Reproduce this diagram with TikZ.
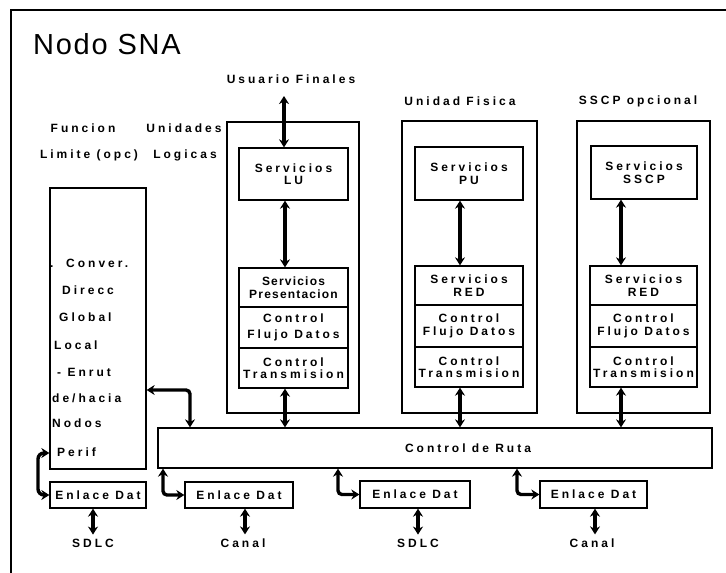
\documentclass[tikz,border=0pt]{standalone}
\usepackage{fontspec}
\usetikzlibrary{arrows.meta}
\newfontfamily\skf[LetterSpace=25]{Liberation Sans}
\newfontfamily\skn[LetterSpace=10]{Liberation Sans}
\newfontfamily\ttlf[LetterSpace=6]{Liberation Sans}
\tikzset{
  frame/.style={draw, line width=1.3pt},
  box/.style={draw, line width=1.3pt, rectangle, inner sep=1pt, align=center,
     font=\skf\bfseries\fontsize{12}{12.5}\selectfont},
  txt/.style={inner sep=0pt, font=\skf\bfseries\fontsize{12}{12.5}\selectfont},
  dbl/.style={line width=3.4pt, {Stealth[length=8pt,width=10pt]}-{Stealth[length=8pt,width=10pt]}},
}
\begin{document}
\begin{tikzpicture}[x=1pt,y=-1pt]
\useasboundingbox (0,0) rectangle (726,573);
% outer frame
\draw[line width=1.4pt] (11,580) -- (11,10) -- (740,10);
\node[inner sep=0pt, anchor=west, font=\ttlf\fontsize{29}{30}\selectfont] (title) at (33,44) {Nodo SNA};

% top labels
\node[txt] (usu) at (291,79) {Usuario Finales};
\node[txt] (unf) at (460,101) {Unidad Fisica};
\node[txt] (sscpl) at (638,101) {SSCP opcional};
\node[txt] (fun) at (83,128) {Funcion};
\node[txt] (uni) at (184,128) {Unidades};
\node[txt] (lim) at (89,155) {Limite (opc)};
\node[txt] (log) at (185,155) {Logicas};

% group frames
\draw[frame] (227,122) rectangle (359,413);
\draw[frame] (402,121) rectangle (537,413);
\draw[frame] (577,121) rectangle (710,413);

% LU column
\node[box, minimum width=109pt, minimum height=52pt] (lu) at (293.5,174) {Servicios\\LU};
\node[box, minimum width=109pt, minimum height=39pt, font=\skn\bfseries\fontsize{12}{12.5}\selectfont] (lup) at (293.5,287.5) {Servicios\\Presentacion};
\node[box, minimum width=109pt, minimum height=41pt] (luf) at (293.5,327.5) {Control\\[4pt]Flujo Datos};
\node[box, minimum width=109pt, minimum height=40pt] (lut) at (293.5,368) {Control\\Transmision};

% PU column
\node[box, minimum width=108pt, minimum height=53pt] (pu) at (469,173.5) {Servicios\\PU};
\node[box, minimum width=108pt, minimum height=39pt] (pur) at (469,285.5) {Servicios\\RED};
\node[box, minimum width=108pt, minimum height=42pt] (puf) at (469,326) {Control\\Flujo Datos};
\node[box, minimum width=108pt, minimum height=40pt] (put) at (469,367) {Control\\Transmision};

% SSCP column
\node[box, minimum width=106pt, minimum height=53pt] (ss) at (644,172.5) {Servicios\\SSCP};
\node[box, minimum width=107pt, minimum height=39pt] (ssr) at (643.5,285.5) {Servicios\\RED};
\node[box, minimum width=107pt, minimum height=42pt] (ssf) at (643.5,326) {Control\\Flujo Datos};
\node[box, minimum width=107pt, minimum height=40pt] (sst) at (643.5,367) {Control\\Transmision};

% Control de Ruta
\node[draw, line width=1.3pt, minimum width=554pt, minimum height=40pt, inner sep=0pt] (ruta) at (435,448) {};
\node[txt] (rutal) at (468,448) {Control de Ruta};

% Left box
\node[draw, line width=1.3pt, minimum width=96pt, minimum height=281pt, inner sep=0pt] (limite) at (98,328.5) {};
\node[txt, anchor=west] (l1) at (50,263) {.\ \ Conver.};
\node[txt, anchor=west] (l2) at (62,290) {Direcc};
\node[txt, anchor=west] (l3) at (59,317) {Global};
\node[txt, anchor=west] (l4) at (54,345) {Local};
\node[txt, anchor=west] (l5) at (57,372) {-\ Enrut};
\node[txt, anchor=west] (l6) at (52,398) {de/hacia};
\node[txt, anchor=west] (l7) at (52,423) {Nodos};
\node[txt, anchor=west] (l8) at (57,452) {Perif};

% Enlace boxes
\node[box, minimum width=96pt, minimum height=26pt] (e1) at (98,495) {Enlace Dat};
\node[box, minimum width=108pt, minimum height=26pt] (e2) at (239,495) {Enlace Dat};
\node[box, minimum width=110pt, minimum height=27pt] (e3) at (415,494.5) {Enlace Dat};
\node[box, minimum width=107pt, minimum height=27pt] (e4) at (593.5,494.5) {Enlace Dat};

% bottom labels
\node[txt] (b1) at (93,543) {SDLC};
\node[txt] (b2) at (243,543) {Canal};
\node[txt] (b3) at (418,543) {SDLC};
\node[txt] (b4) at (592,543) {Canal};

% vertical arrows in columns
\coordinate (ut) at (284,96);
\draw[dbl] (ut) -- (ut |- lu.north);
\draw[dbl] ([xshift=-8.5pt]lu.south) -- ([xshift=-8.5pt]lup.north);
\draw[dbl] ([xshift=-8.5pt]lut.south) -- ([xshift=-8.5pt]lut.south |- ruta.north);
\draw[dbl] ([xshift=-9pt]pu.south) -- ([xshift=-9pt]pur.north);
\draw[dbl] ([xshift=-9pt]put.south) -- ([xshift=-9pt]put.south |- ruta.north);
\draw[dbl] ([xshift=-23pt]ss.south) -- ([xshift=-22.5pt]ssr.north);
\draw[dbl] ([xshift=-22.5pt]sst.south) -- ([xshift=-22.5pt]sst.south |- ruta.north);

% left box to ruta
\coordinate (k1) at (190,390);
\draw[dbl, rounded corners=4pt] (k1 -| limite.east) -- (k1) -- (k1 |- ruta.north);
% left box to e1
\coordinate (c1) at (38,453);
\draw[dbl, rounded corners=6pt] (c1 -| limite.west) -- (c1) -- (c1 |- e1.west) -- (e1.west);
% ruta to enlace boxes
\coordinate (c2) at (163,495);
\draw[dbl, rounded corners=4pt] (c2 |- ruta.south) -- (c2) -- (e2.west);
\coordinate (c3) at (338,494.5);
\draw[dbl, rounded corners=4pt] (c3 |- ruta.south) -- (c3) -- (e3.west);
\coordinate (c4) at (517,494.5);
\draw[dbl, rounded corners=4pt] (c4 |- ruta.south) -- (c4) -- (e4.west);

% enlace to bottom labels
\draw[dbl] (e1.south -| b1) -- ([yshift=4pt]b1.north);
\draw[dbl] (e2.south -| 245,0) -- ([yshift=4pt]b2.north -| 245,0);
\draw[dbl] (e3.south -| b3) -- ([yshift=4pt]b3.north);
\draw[dbl] (e4.south -| 595,0) -- ([yshift=4pt]b4.north -| 595,0);
\end{tikzpicture}
\end{document}
